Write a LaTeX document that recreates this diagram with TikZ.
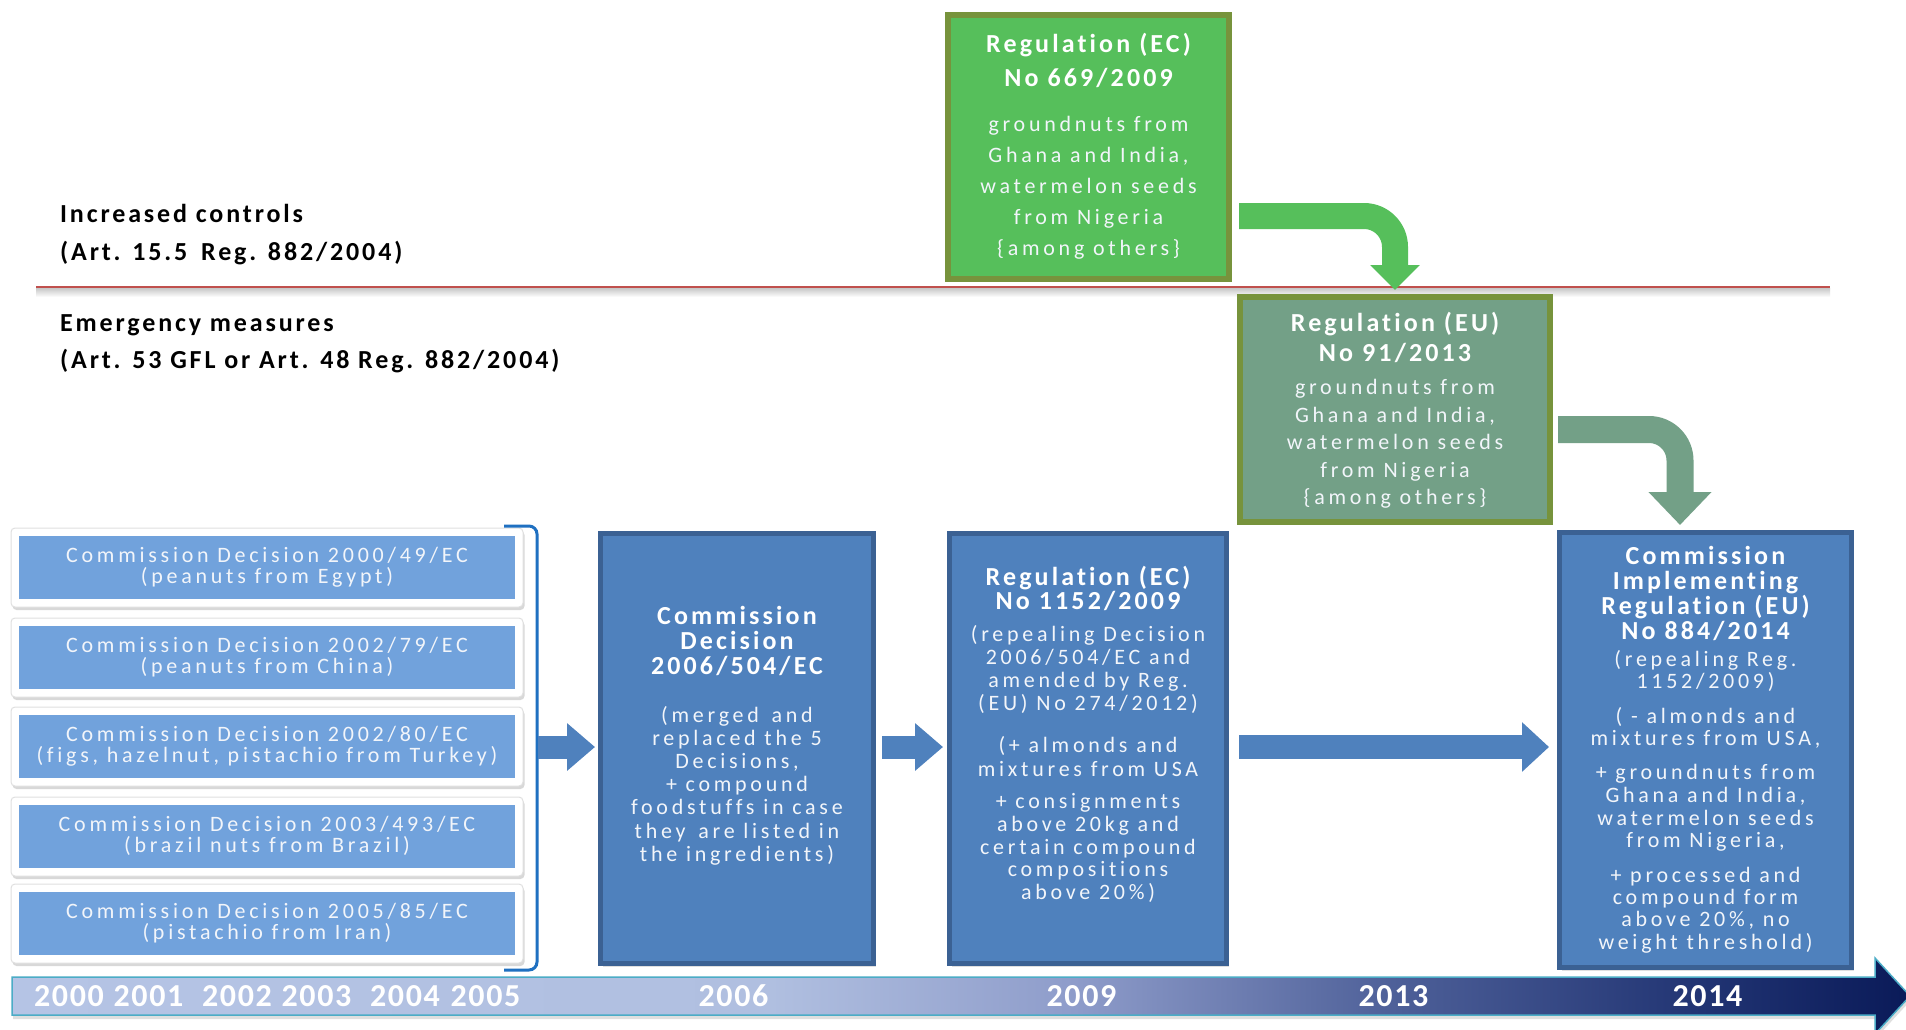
\documentclass[tikz,border=0pt]{standalone}
\usepackage{fontspec}
\setmainfont{Carlito}[Ligatures=NoCommon]
\newfontfamily\bodyf{Carlito}[LetterSpace=17,Ligatures=NoCommon]
\newfontfamily\titlef{Carlito}[LetterSpace=12,Ligatures=NoCommon]
\newfontfamily\labelf{Carlito}[LetterSpace=11,Ligatures=NoCommon]
\newfontfamily\yearf{Carlito}[LetterSpace=5,Ligatures=NoCommon]
\usetikzlibrary{arrows.meta,shadows,calc}
\definecolor{blueFill}{HTML}{4F81BD}
\definecolor{blueEdge}{HTML}{3B6193}
\definecolor{leftFill}{HTML}{71A2DC}
\definecolor{greenFill}{HTML}{56BF5B}
\definecolor{oliveEdge}{HTML}{77933C}
\definecolor{sageFill}{HTML}{73A087}
\definecolor{bracketBlue}{HTML}{1F70C1}
\definecolor{tealLine}{HTML}{4BACC6}
\definecolor{redLine}{HTML}{C0504D}
\definecolor{textW}{HTML}{F2F5FA}
\definecolor{tlA}{HTML}{B5C4E5}
\definecolor{tlB}{HTML}{B0BFE0}
\definecolor{tlC}{HTML}{8E9CCA}
\definecolor{tlD}{HTML}{4D5F98}
\definecolor{tlE}{HTML}{213473}
\definecolor{tlF}{HTML}{0A1A58}
\pgfdeclarehorizontalshading{timelineshade}{100bp}{color(0bp)=(tlA); color(25bp)=(tlA); color(45bp)=(tlB); color(53bp)=(tlC); color(61.5bp)=(tlD); color(69.5bp)=(tlE); color(75bp)=(tlF); color(100bp)=(tlF)}
\begin{document}
\begin{tikzpicture}[x=1pt,y=-1pt,
  bluebox/.style={rectangle, draw=blueEdge, fill=blueFill, line width=5pt, inner sep=0pt,
    drop shadow={shadow xshift=2pt,shadow yshift=-3pt,opacity=0.25}},
  greenbox/.style={rectangle, draw=oliveEdge, fill=greenFill, line width=6pt, inner sep=0pt},
  sagebox/.style={rectangle, draw=oliveEdge, fill=sageFill, line width=6pt, inner sep=0pt},
  decframe/.style={rectangle, rounded corners=4pt, fill=white, draw=black!12, line width=1pt,
    minimum width=512pt, minimum height=79pt, inner sep=0pt,
    drop shadow={shadow xshift=1.5pt,shadow yshift=-3pt,opacity=0.3}},
  decbox/.style={rectangle, fill=leftFill, inner sep=0pt, minimum width=496pt, minimum height=63pt},
  dectxt/.style={text=textW, align=center, inner sep=0pt, font=\bodyf\fontsize{22}{21}\selectfont},
  titletxt/.style={text=white, align=center, inner sep=0pt, font=\titlef\bfseries\fontsize{26}{25}\selectfont},
  bodytxt/.style={text=textW, align=center, inner sep=0pt, font=\bodyf\fontsize{22}{23}\selectfont},
  sidelabel/.style={anchor=base west, inner sep=0pt, text=black, font=\labelf\bfseries\fontsize{26}{30}\selectfont},
  yeartxt/.style={text=white, inner sep=0pt, font=\yearf\bfseries\fontsize{32}{32}\selectfont},
  blockarrow/.style={line width=23pt, draw=blueFill, -{Triangle[width=46pt,length=28pt]}},
  bracketline/.style={draw=bracketBlue, line width=3pt, rounded corners=8pt}
]
\useasboundingbox (0,0) rectangle (1906,1029);
\clip (0,0) rectangle (1906,1029);
\fill[white] (0,0) rectangle (1906,1029);

% separator line
\shade[top color=black!22, bottom color=white] (36,288) rectangle (1830,297);
\draw[draw=redLine, line width=2pt] (36,287) -- (1830,287);

% side labels
\node[sidelabel] (inc1) at (60,222.5) {Increased controls};
\node[sidelabel] (inc2) at (60,260.5) {(Art. 15.5\hspace{5pt} Reg. 882/2004)};
\node[sidelabel] (emg1) at (60,331) {Emergency measures};
\node[sidelabel] (emg2) at (60,368) {(Art. 53 GFL or Art. 48 Reg. 882/2004)};

% timeline
\shadedraw[shading=timelineshade, draw=tealLine, line width=1.5pt,
  drop shadow={shadow xshift=1pt,shadow yshift=-4pt,opacity=0.25}]
  (12,977) -- (1875,977) -- (1875,958) -- (1910,996) -- (1875,1034) -- (1875,1015) -- (12,1015) -- cycle;
\node[yeartxt] (y2000) at (69,996) {2000};
\node[yeartxt] (y2001) at (148.5,996) {2001};
\node[yeartxt] (y2002) at (237,996) {2002};
\node[yeartxt] (y2003) at (316.5,996) {2003};
\node[yeartxt] (y2004) at (405,996) {2004};
\node[yeartxt] (y2005) at (485.5,996) {2005};
\node[yeartxt] (y2006) at (733.5,996) {2006};
\node[yeartxt] (y2009) at (1081.5,996) {2009};
\node[yeartxt] (y2013) at (1393.5,996) {2013};
\node[yeartxt] (y2014) at (1707.5,996) {2014};

% left decisions
\foreach \i/\yy in {1/567,2/657,3/746,4/836,5/923}{
  \node[decframe] (frame\i) at (267,\yy+0.5) {};
  \node[decbox] (dec\i) at (267,\yy) {};
}
\node[dectxt] (t1) at (dec1) {Commission Decision 2000/49/EC\\(peanuts from Egypt)};
\node[dectxt] (t2) at (dec2) {Commission Decision 2002/79/EC\\(peanuts from China)};
\node[dectxt] (t3) at (dec3) {Commission Decision 2002/80/EC\\(figs, hazelnut, pistachio from Turkey)};
\node[dectxt] (t4) at (dec4) {Commission Decision 2003/493/EC\\(brazil nuts from Brazil)};
\node[dectxt] (t5) at (dec5) {Commission Decision 2005/85/EC\\(pistachio from Iran)};

% bracket
\draw[bracketline] (504,526) -- (537,526) -- (537,970) -- (504,970);
\coordinate (brk) at (538,747);

% main boxes
\node[bluebox, minimum width=273pt, minimum height=430pt] (d2006) at (737,748.5) {};
\node[bluebox, minimum width=277pt, minimum height=430pt] (d2009) at (1088,748.5) {};
\node[bluebox, minimum width=292pt, minimum height=435pt] (r2014) at (1705.5,750) {};
\node[greenbox, minimum width=281pt, minimum height=264pt] (g669) at (1088.5,147) {};
\node[sagebox, minimum width=310pt, minimum height=225pt] (r91) at (1395,409.5) {};

% arrows
\draw[blockarrow] (brk) -- ($(d2006.west |- brk)+(-3,0)$);
\draw[blockarrow] ($(d2006.east |- brk)+(6,0)$) -- ($(d2009.west |- brk)+(-4,0)$);
\draw[blockarrow, line width=24pt, -{Triangle[width=48pt,length=27pt]}] ($(d2009.east |- brk)+(10,0)$) -- ($(r2014.west |- brk)+(-8,0)$);
\draw[draw=greenFill, line width=26pt, rounded corners=31pt, -{Triangle[width=48pt,length=25pt]}]
  ($(g669.south east)+(7,-66)$) -| ($(r91.north)+(0,-4)$);
\draw[draw=sageFill, line width=27pt, rounded corners=31pt, -{Triangle[width=61pt,length=33pt]}]
  ($(r91.south east)+(5,-95.5)$) -| ($(r2014.north west)+(123,-5)$);

% texts in boxes
\node[titletxt, font=\titlef\bfseries\fontsize{26}{34}\selectfont] (g669t) at (1088.5,60) {Regulation (EC)\\No 669/2009};
\node[bodytxt, font=\bodyf\fontsize{22}{31}\selectfont] (g669b) at (1088.5,188) {groundnuts from\\Ghana and India,\\watermelon seeds\\from Nigeria\\\{among others\}};

\node[titletxt, font=\titlef\bfseries\fontsize{26}{30}\selectfont] (r91t) at (1395,337) {Regulation (EU)\\No 91/2013};
\node[bodytxt, font=\bodyf\fontsize{22}{27.5}\selectfont] (r91b) at (1395,444) {groundnuts from\\Ghana and India,\\watermelon seeds\\from Nigeria\\\{among others\}};

\node[titletxt] (d2006t) at (737,641) {Commission\\Decision\\2006/504/EC};
\node[bodytxt, font=\bodyf\fontsize{22}{23.2}\selectfont] (d2006b) at (737,785.5) {(merged\hspace{4pt} and\\replaced the 5\\Decisions,\\+ compound\\foodstuffs in case\\they\hspace{4pt} are listed in\\the ingredients)};

\node[titletxt, font=\titlef\bfseries\fontsize{26}{24}\selectfont] (d2009t) at (1088,588) {Regulation (EC)\\No 1152/2009};
\node[bodytxt] (d2009a) at (1088,669.5) {(repealing Decision\\2006/504/EC and\\amended by Reg.\\(EU) No 274/2012)};
\node[bodytxt, font=\bodyf\fontsize{22}{24}\selectfont] (d2009b) at (1088,757) {(+ almonds and\\mixtures from USA};
\node[bodytxt, font=\bodyf\fontsize{22}{22.75}\selectfont] (d2009c) at (1088,848) {+ consignments\\above 20kg and\\certain compound\\compositions\\above 20\%)};

\node[titletxt] (r2014t) at (1705.5,593) {Commission\\Implementing\\Regulation (EU)\\No 884/2014};
\node[bodytxt, font=\bodyf\fontsize{22}{22}\selectfont] (r2014a) at (1705.5,671) {(repealing Reg.\\1152/2009)};
\node[bodytxt, font=\bodyf\fontsize{22}{22}\selectfont] (r2014b) at (1705.5,728) {( - almonds and\\mixtures from USA,};
\node[bodytxt, font=\bodyf\fontsize{22}{22.7}\selectfont] (r2014c) at (1705.5,808) {+ groundnuts from\\Ghana and India,\\watermelon seeds\\from Nigeria,};
\node[bodytxt, font=\bodyf\fontsize{22}{22.3}\selectfont] (r2014d) at (1705.5,910) {+ processed and\\compound form\\above 20\%, no\\weight threshold)};
\end{tikzpicture}
\end{document}
